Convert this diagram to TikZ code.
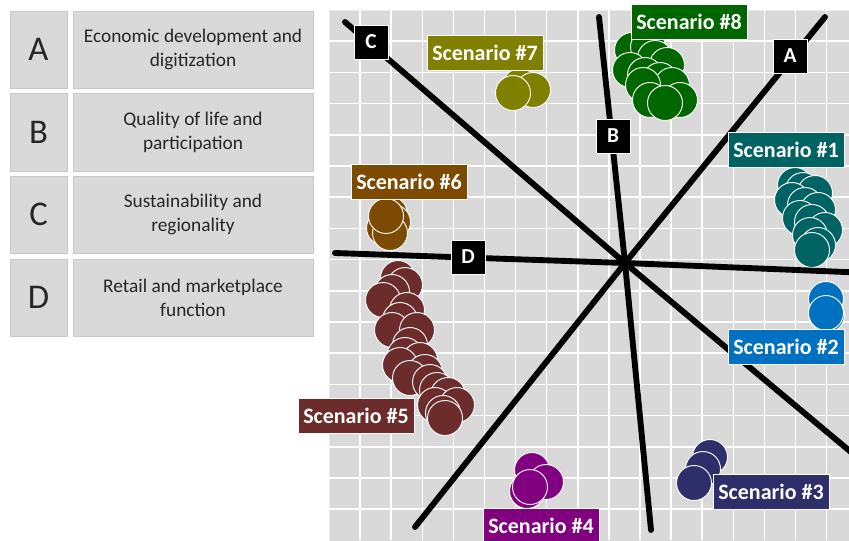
\documentclass[tikz,border=0pt]{standalone}
\usepackage{fontspec}
\setmainfont{Carlito}
\definecolor{scenOne}{RGB}{0,99,99}
\definecolor{scenTwo}{RGB}{0,112,192}
\definecolor{scenThree}{RGB}{46,46,106}
\definecolor{scenFour}{RGB}{128,0,128}
\definecolor{scenFive}{RGB}{108,44,44}
\definecolor{scenSix}{RGB}{124,74,0}
\definecolor{scenSeven}{RGB}{127,127,0}
\definecolor{scenEight}{RGB}{0,102,0}
\definecolor{cellgray}{RGB}{217,217,217}
\definecolor{inkgray}{RGB}{38,38,38}

\begin{document}
\begin{tikzpicture}[x=0.75pt,y=0.75pt,yscale=-1,xscale=1,
  keycell/.style={fill=cellgray, draw={rgb,255:red,200;green,200;blue,200}, line width=0.75},
  keyletter/.style={inner sep=0.75pt, text=inkgray, font=\fontsize{26}{26}\selectfont},
  keytext/.style={inner sep=0.75pt, align=center, text=inkgray, font=\fontsize{14.5}{18}\selectfont},
  gridline/.style={draw=white, line width=1.1},
  axisline/.style={line width=4.4, line cap=round},
  axislabel/.style={fill=black, draw=white, line width=0.6, text=white, font=\bfseries\fontsize{16}{16}\selectfont, minimum size=25.5pt, inner sep=0pt},
  dot/.style={draw=white, line width=0.7},
  scenario/.style={text=white, draw=white, line width=0.5, font=\bfseries\fontsize{16.5}{16.5}\selectfont, inner xsep=4pt, minimum height=26.5pt}
]
\useasboundingbox (0,0) rectangle (849,540);

% key table
\draw [keycell] (10,11) rectangle (67,88);
\draw [keycell] (73,11) rectangle (313,88);
\draw [keycell] (10,93) rectangle (67,171);
\draw [keycell] (73,93) rectangle (313,171);
\draw [keycell] (10,176) rectangle (67,253);
\draw [keycell] (73,176) rectangle (313,253);
\draw [keycell] (10,259) rectangle (67,336);
\draw [keycell] (73,259) rectangle (313,336);
\draw (38.5,49.5) node [keyletter] (keyA) {A};
\draw (193,49.5) node [keytext] (descA) {Economic development  and\\digitization};
\draw (38.5,132) node [keyletter] (keyB) {B};
\draw (193,132) node [keytext] (descB) {Quality of life and\\participation};
\draw (38.5,214.5) node [keyletter] (keyC) {C};
\draw (193,214.5) node [keytext] (descC) {Sustainability and\\regionality};
\draw (38.5,297.5) node [keyletter] (keyD) {D};
\draw (193,297.5) node [keytext] (descD) {Retail and marketplace\\function};

% plot area and grid
\draw [fill=cellgray, draw={rgb,255:red,235;green,235;blue,235}] (329,10) rectangle (860,550);
\foreach \k in {1,...,16} {
  \draw [gridline] ({329+31.1*\k},10) -- ({329+31.1*\k},540);
  \draw [gridline] (329,{10+31.2*\k}) -- (849,{10+31.2*\k});
}

% scenario #7
\draw [dot, fill=scenSeven] (520,86) circle (17.5);
\draw [dot, fill=scenSeven] (533,90) circle (17.5);
\draw [dot, fill=scenSeven] (513,93) circle (17.5);
% scenario #6
\draw [dot, fill=scenSix] (390,214) circle (17.5);
\draw [dot, fill=scenSix] (393,222) circle (17.5);
\draw [dot, fill=scenSix] (384,228) circle (17.5);
\draw [dot, fill=scenSix] (390,233) circle (17.5);
\draw [dot, fill=scenSix] (386,216) circle (17.5);
% scenario #8
\draw [dot, fill=scenEight] (632,50) circle (17.5);
\draw [dot, fill=scenEight] (648,47) circle (17.5);
\draw [dot, fill=scenEight] (655,58) circle (17.5);
\draw [dot, fill=scenEight] (667,65) circle (17.5);
\draw [dot, fill=scenEight] (630,70) circle (17.5);
\draw [dot, fill=scenEight] (645,75) circle (17.5);
\draw [dot, fill=scenEight] (660,80) circle (17.5);
\draw [dot, fill=scenEight] (672,85) circle (17.5);
\draw [dot, fill=scenEight] (643,85) circle (17.5);
\draw [dot, fill=scenEight] (680,100) circle (17.5);
\draw [dot, fill=scenEight] (650,100) circle (17.5);
\draw [dot, fill=scenEight] (665,103) circle (17.5);
% scenario #1
\draw [dot, fill=scenOne] (795,185) circle (17.5);
\draw [dot, fill=scenOne] (803,190) circle (17.5);
\draw [dot, fill=scenOne] (815,193) circle (17.5);
\draw [dot, fill=scenOne] (792,200) circle (17.5);
\draw [dot, fill=scenOne] (805,205) circle (17.5);
\draw [dot, fill=scenOne] (818,210) circle (17.5);
\draw [dot, fill=scenOne] (800,218) circle (17.5);
\draw [dot, fill=scenOne] (812,222) circle (17.5);
\draw [dot, fill=scenOne] (825,230) circle (17.5);
\draw [dot, fill=scenOne] (810,235) circle (17.5);
\draw [dot, fill=scenOne] (818,245) circle (17.5);
\draw [dot, fill=scenOne] (812,250) circle (17.5);
% scenario #2
\draw [dot, fill=scenTwo] (826,299) circle (17.5);
\draw [dot, fill=scenTwo] (827,315) circle (17.5);
\draw [dot, fill=scenTwo] (826,313) circle (17.5);
% scenario #3
\draw [dot, fill=scenThree] (710,457) circle (17.5);
\draw [dot, fill=scenThree] (703,469) circle (17.5);
\draw [dot, fill=scenThree] (694,483) circle (17.5);
% scenario #4
\draw [dot, fill=scenFour] (532,470) circle (17.5);
\draw [dot, fill=scenFour] (546,482) circle (17.5);
\draw [dot, fill=scenFour] (527,491) circle (17.5);
\draw [dot, fill=scenFour] (530,487) circle (17.5);
% scenario #5
\draw [dot, fill=scenFive] (398,278) circle (17.5);
\draw [dot, fill=scenFive] (405,285) circle (17.5);
\draw [dot, fill=scenFive] (392,292) circle (17.5);
\draw [dot, fill=scenFive] (383,300) circle (17.5);
\draw [dot, fill=scenFive] (407,310) circle (17.5);
\draw [dot, fill=scenFive] (400,320) circle (17.5);
\draw [dot, fill=scenFive] (392,330) circle (17.5);
\draw [dot, fill=scenFive] (417,330) circle (17.5);
\draw [dot, fill=scenFive] (410,345) circle (17.5);
\draw [dot, fill=scenFive] (405,355) circle (17.5);
\draw [dot, fill=scenFive] (420,360) circle (17.5);
\draw [dot, fill=scenFive] (400,365) circle (17.5);
\draw [dot, fill=scenFive] (425,372) circle (17.5);
\draw [dot, fill=scenFive] (410,378) circle (17.5);
\draw [dot, fill=scenFive] (430,382) circle (17.5);
\draw [dot, fill=scenFive] (437,390) circle (17.5);
\draw [dot, fill=scenFive] (448,395) circle (17.5);
\draw [dot, fill=scenFive] (435,405) circle (17.5);
\draw [dot, fill=scenFive] (457,405) circle (17.5);
\draw [dot, fill=scenFive] (443,413) circle (17.5);
\draw [dot, fill=scenFive] (445,418) circle (17.5);

% axes through the origin
\coordinate (O) at (625,263);
\coordinate (aTop) at (825,17);
\coordinate (aBot) at (415,527);
\coordinate (bTop) at (599,17);
\coordinate (bBot) at (651,530);
\coordinate (cTop) at (345,22);
\coordinate (cBot) at (870,468);
\coordinate (dLeft) at (335,253);
\coordinate (dRight) at (870,273);
\draw [axisline] (aTop) -- (O) -- (aBot);
\draw [axisline] (bTop) -- (O) -- (bBot);
\draw [axisline] (cTop) -- (O) -- (cBot);
\draw [axisline] (dLeft) -- (O) -- (dRight);
\draw (790,56) node [axislabel] (labA) {A};
\draw (613,136) node [axislabel] (labB) {B};
\draw (371,42) node [axislabel] (labC) {C};
\draw (468,257) node [axislabel] (labD) {D};

% scenario labels
\draw (786,150) node [scenario, fill=scenOne] (scen1) {Scenario \#1};
\draw (786,347) node [scenario, fill=scenTwo] (scen2) {Scenario \#2};
\draw (771,492) node [scenario, fill=scenThree] (scen3) {Scenario \#3};
\draw (541,526) node [scenario, fill=scenFour] (scen4) {Scenario \#4};
\draw (356,416) node [scenario, fill=scenFive] (scen5) {Scenario \#5};
\draw (409,182) node [scenario, fill=scenSix] (scen6) {Scenario \#6};
\draw (485,53) node [scenario, fill=scenSeven] (scen7) {Scenario \#7};
\draw (689,22) node [scenario, fill=scenEight] (scen8) {Scenario \#8};
\end{tikzpicture}
\end{document}
